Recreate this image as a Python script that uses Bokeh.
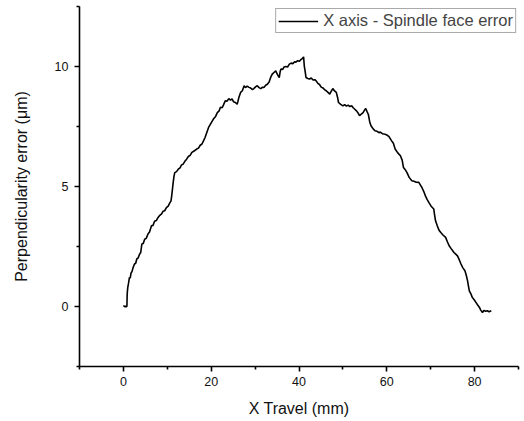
from bokeh.plotting import figure
from bokeh.models import Range1d, FixedTicker, Legend, LegendItem
from bokeh.embed import file_html
from bokeh.resources import INLINE

# ---- data ----
x_travel = [
    0.00, 0.15, 0.30, 0.45, 0.60, 0.80, 0.85, 0.90, 1.00, 1.15, 1.38, 1.55, 1.75, 1.95,
    2.20, 2.53, 2.80, 3.05, 3.35, 3.68, 3.95, 4.20, 4.50, 4.85, 5.20, 5.60, 5.95, 6.40,
    6.75, 7.10, 7.50, 7.90, 8.30, 8.70, 9.05, 9.40, 9.80, 10.20, 10.60, 10.85, 11.00,
    11.15, 11.30, 11.50, 11.70, 12.10, 12.50, 12.90, 13.25, 13.60, 14.00, 14.40, 14.80,
    15.20, 15.60, 16.10, 16.70, 17.10, 17.50, 17.90, 18.30, 18.60, 19.00, 19.40, 19.90,
    20.50, 21.00, 21.40, 21.80, 22.10, 22.50, 22.80, 23.20, 23.60, 24.00, 24.40, 24.75,
    25.10, 25.50, 25.90, 26.10, 26.30, 26.70, 27.10, 27.50, 27.80, 28.20, 28.60, 29.00,
    29.40, 29.70, 30.10, 30.50, 30.90, 31.30, 31.70, 32.00, 32.40, 32.80, 33.20, 33.55,
    33.90, 34.30, 34.70, 35.10, 35.50, 35.70, 35.90, 36.30, 36.60, 37.00, 37.40, 37.80,
    38.20, 38.60, 39.00, 39.30, 39.70, 40.10, 40.50, 40.80, 41.05, 41.20, 41.40, 41.60,
    42.00, 42.40, 42.80, 43.20, 43.60, 43.90, 44.30, 44.70, 45.10, 45.50, 45.80, 46.20,
    46.60, 47.00, 47.30, 47.70, 48.10, 48.50, 48.80, 49.00, 49.50, 50.00, 50.40, 50.80,
    51.20, 51.60, 52.00, 52.30, 52.70, 53.10, 53.50, 53.80, 54.20, 54.60, 55.00, 55.20,
    55.50, 55.80, 56.10, 56.40, 56.90, 57.30, 57.80, 58.20, 58.50, 59.00, 59.60, 60.00,
    60.50, 61.10, 61.50, 61.90, 62.50, 63.10, 63.50, 63.80, 64.20, 64.60, 65.10, 65.70,
    66.20, 66.70, 67.30, 67.70, 68.00, 68.40, 68.80, 69.20, 69.60, 70.10, 70.70, 70.90,
    71.10, 71.50, 71.90, 72.30, 72.80, 73.40, 73.80, 74.20, 74.70, 75.30, 75.70, 76.10,
    76.50, 76.90, 77.30, 77.80, 78.10, 78.40, 78.60, 78.80, 79.10, 79.50, 79.90, 80.30,
    80.70, 81.10, 81.40, 81.80, 82.10, 82.50, 82.90, 83.30, 83.80,
]
perp_error = [
    0.00, 0.03, -0.02, 0.02, -0.01, 0.01, 0.45, 0.62, 0.80, 0.95, 1.21, 1.18, 1.40, 1.45,
    1.62, 1.77, 1.80, 1.98, 2.02, 2.18, 2.25, 2.60, 2.62, 2.80, 2.84, 3.02, 3.10, 3.36,
    3.38, 3.55, 3.58, 3.71, 3.80, 3.86, 3.97, 3.99, 4.12, 4.18, 4.33, 4.40, 4.61,
    4.85, 5.10, 5.40, 5.58, 5.62, 5.72, 5.78, 5.90, 5.93, 6.05, 6.14, 6.25,
    6.30, 6.42, 6.48, 6.56, 6.60, 6.72, 6.77, 6.92, 7.04, 7.25, 7.46, 7.62,
    7.81, 7.92, 8.08, 8.15, 8.30, 8.28, 8.40, 8.57, 8.55, 8.66, 8.60, 8.65,
    8.53, 8.50, 8.43, 8.55, 8.71, 8.92, 8.99, 9.20, 9.12, 9.18, 9.13, 9.10,
    9.04, 9.08, 9.15, 9.20, 9.12, 9.08, 9.14, 9.12, 9.22, 9.26, 9.35, 9.55,
    9.68, 9.75, 9.82, 9.66, 9.54, 9.78, 9.90, 9.88, 9.98, 10.00, 9.98, 10.10,
    10.14, 10.12, 10.20, 10.18, 10.24, 10.22, 10.30, 10.34, 10.40, 10.03, 9.80, 9.54,
    9.50, 9.48, 9.52, 9.44, 9.45, 9.40, 9.30, 9.24, 9.13, 9.10, 9.04, 8.99,
    8.92, 8.85, 8.95, 9.08, 8.98, 8.92, 8.70, 8.50, 8.42, 8.36, 8.41, 8.35,
    8.39, 8.33, 8.36, 8.29, 8.22, 8.15, 8.05, 7.95, 8.02, 8.08, 8.20, 8.25,
    8.12, 8.00, 7.70, 7.53, 7.40, 7.32, 7.30, 7.24, 7.27, 7.20, 7.18, 7.15,
    7.08, 6.90, 6.80, 6.56, 6.40, 6.28, 6.10, 5.79, 5.70, 5.58, 5.38, 5.24,
    5.22, 5.18, 5.17, 5.05, 4.96, 4.80, 4.61, 4.45, 4.33, 4.18, 4.06, 3.80,
    3.57, 3.36, 3.18, 3.08, 2.98, 2.88, 2.70, 2.53, 2.40, 2.25, 2.18, 2.11,
    1.95, 1.77, 1.62, 1.49, 1.30, 1.07, 0.85, 0.65, 0.55, 0.37, 0.28, 0.17,
    0.06, -0.04, -0.15, -0.25, -0.16, -0.20, -0.18, -0.22, -0.18,
]
series_label = "X axis - Spindle face error"
x_major = [0, 20, 40, 60, 80]
x_minor = [-10, 10, 30, 50, 70, 90]
y_major = [0, 5, 10]
y_minor = [-2.5, 2.5, 7.5, 12.5]

FONT = "Liberation Sans"

p = figure(width=524, height=421, output_backend="svg", toolbar_location=None,
           x_range=Range1d(-10, 90), y_range=Range1d(-2.5, 12.5),
           min_border_left=79, min_border_right=6, min_border_top=6, min_border_bottom=55)
p.outline_line_color = None
p.xgrid.visible = False
p.ygrid.visible = False
p.background_fill_color = "white"
p.border_fill_color = "white"

r = p.line(x_travel, perp_error, line_color="black", line_width=1.6)

p.xaxis.ticker = FixedTicker(ticks=x_major, minor_ticks=x_minor)
p.yaxis.ticker = FixedTicker(ticks=y_major, minor_ticks=y_minor)
p.xaxis.axis_label = "X Travel (mm)"
p.yaxis.axis_label = "Perpendicularity error (\u03bcm)"

for ax in (p.xaxis[0], p.yaxis[0]):
    ax.axis_line_width = 1.6
    ax.axis_line_color = "black"
    ax.major_tick_line_width = 1.6
    ax.minor_tick_line_width = 1.6
    ax.major_tick_line_color = "black"
    ax.minor_tick_line_color = "black"
    ax.major_tick_in = 0
    ax.major_tick_out = 5
    ax.minor_tick_in = 0
    ax.minor_tick_out = 3
    ax.major_label_text_font = FONT
    ax.major_label_text_font_size = "12.5px"
    ax.major_label_text_color = "#111111"
    ax.axis_label_text_font = FONT
    ax.axis_label_text_font_size = "16px"
    ax.axis_label_text_font_style = "normal"
    ax.axis_label_text_color = "#111111"

p.xaxis.major_label_standoff = 5
p.xaxis.axis_label_standoff = 11
p.yaxis.major_label_standoff = 6
p.yaxis.axis_label_standoff = 22

legend = Legend(items=[LegendItem(label=series_label, renderers=[r])],
                location="top_right", padding=2, spacing=0, margin=2,
                glyph_width=40, glyph_height=16, label_height=16, label_standoff=5,
                label_text_font=FONT, label_text_font_size="16.5px",
                border_line_color="#555555", border_line_width=1,
                background_fill_color="white", background_fill_alpha=1.0)
p.add_layout(legend)

open("out.html", "w").write(file_html(p, INLINE))
